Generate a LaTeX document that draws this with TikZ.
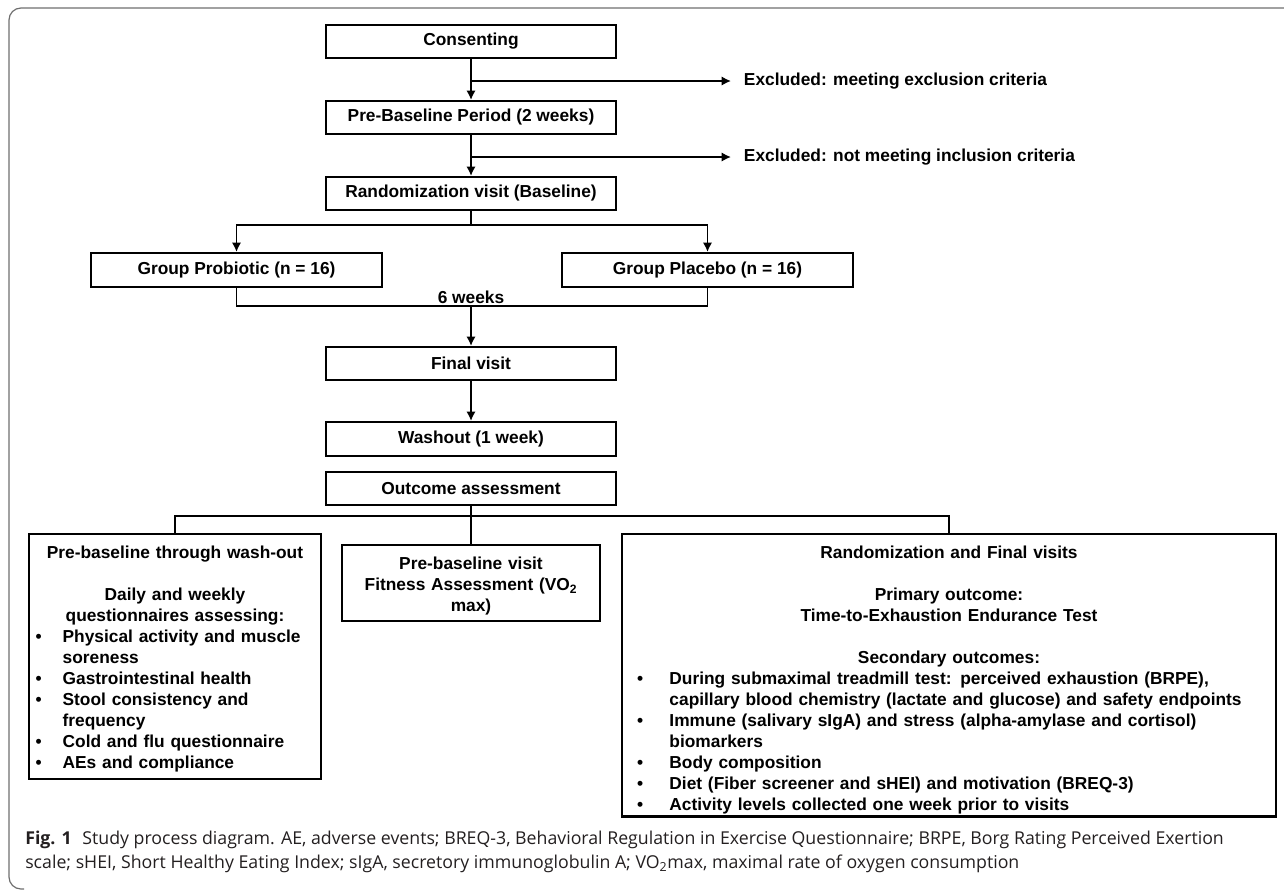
\documentclass[tikz,border=0pt]{standalone}
\usepackage{fontspec}
\setmainfont{Liberation Sans}
\newfontfamily\capfont{Open Sans}
\usetikzlibrary{arrows.meta}
\definecolor{framegray}{RGB}{110,110,110}
\definecolor{captext}{RGB}{35,31,32}
% puce avec retrait suspendu : décalage de la puce, retrait du texte, texte
\newcommand{\puce}[3]{\par\noindent\hangindent=#2\hangafter=1\makebox[#2][l]{\hspace*{#1}\textbullet}#3\par}

\begin{document}
\begin{tikzpicture}[x=0.75pt, y=-0.75pt, >={Latex[length=7pt,width=7pt]}]

        % Définition des styles
        \tikzset{
            box/.style={draw, line width=1.6pt, minimum width=217.5pt, minimum height=24.75pt, inner sep=0pt, font=\fontsize{13pt}{15.75pt}\selectfont\bfseries},
            bigbox/.style={draw, line width=1.6pt, anchor=north, inner xsep=5pt, inner ysep=2pt, align=left, font=\fontsize{13pt}{15.75pt}\selectfont\bfseries},
            excl/.style={anchor=west, inner xsep=9.5pt, inner ysep=0pt, font=\fontsize{13pt}{15.75pt}\selectfont\bfseries},
            flow/.style={->, line width=1.3pt},
            link/.style={line width=1.3pt},
            frame/.style={draw=framegray, line width=0.9pt, rounded corners=9pt}
        }
        \useasboundingbox (0,0) rectangle (1284,889);

        % Cadre gris de la figure
        \draw[frame] (1290,8) -- (9,8) -- (9,889) -- (24,889);

        % --- PARTIE HAUTE : Inclusion ---
        \node[box] (consent) at (471,41.5) {Consenting};
        \node[box] (prebase) at (471,117.5) {Pre-Baseline Period (2 weeks)};
        \node[box] (randvisit) at (471,193.5) {Randomization visit (Baseline)};
        \node[excl] (excl1) at (731,81) {Excluded: meeting exclusion criteria};
        \node[excl] (excl2) at (731,157) {Excluded: not meeting inclusion criteria};

        \draw[flow] (consent) -- (prebase);
        \draw[flow] (consent.south |- excl1.west) -- (excl1.west);
        \draw[flow] (prebase) -- (randvisit);
        \draw[flow] (prebase.south |- excl2.west) -- (excl2.west);

        % --- GROUPES ---
        \node[box, minimum width=218.25pt, minimum height=25.5pt] (probio) at (236.5,270) {Group Probiotic (n = 16)};
        \node[box, minimum width=218.25pt, minimum height=25.5pt] (placebo) at (707.5,270) {Group Placebo (n = 16)};

        \coordinate (split) at (471,225);
        \draw[link] (randvisit) -- (split);
        \draw[flow] (split) -| (probio);
        \draw[flow] (split) -| (placebo);

        \coordinate (merge) at (471,306);
        \draw[link] (probio) |- (merge) -| (placebo);
        \node[above, inner sep=1.5pt, font=\fontsize{13pt}{15.75pt}\selectfont\bfseries] (weeks) at (merge) {6 weeks};

        % --- SUIVI ---
        \node[box] (final) at (471,363.5) {Final visit};
        \node[box, minimum height=25.5pt] (washout) at (471,439) {Washout (1 week)};
        \node[box] (outcome) at (471,488.5) {Outcome assessment};

        \draw[flow] (merge) -- (final);
        \draw[flow] (final) -- (washout);

        % --- PARTIE BASSE : Mesures ---
        \node[bigbox, text width=209pt] (prewash) at (175,532.5) {%
            {\centering\rule{0pt}{16.5pt}Pre-baseline through wash-out\par}
            \vspace{15.75pt}
            {\centering Daily and weekly\\ questionnaires assessing:\par}
            \puce{0pt}{20.25pt}{Physical activity and muscle\break soreness}
            \puce{0pt}{20.25pt}{Gastrointestinal health}
            \puce{0pt}{20.25pt}{Stool consistency and\break frequency}
            \puce{0pt}{20.25pt}{Cold and flu questionnaire}
            \puce{0pt}{20.25pt}{AEs and compliance\rule[-6.25pt]{0pt}{6.25pt}}};
        \node[bigbox, text width=183.5pt, align=center] (fitness) at (471,544) {%
            \rule{0pt}{16pt}Pre-baseline visit\\
            Fitness Assessment (VO\textsubscript{2}\\
            max)\rule[-5.5pt]{0pt}{5.5pt}};
        \node[bigbox, text width=480.5pt] (randfinal) at (949,532.5) {%
            {\centering\rule{0pt}{16.5pt}Randomization and Final visits\par}
            \vspace{15.75pt}
            {\centering Primary outcome:\\ Time-to-Exhaustion Endurance Test\par}
            \vspace{15.75pt}
            {\centering Secondary outcomes:\par}
            \puce{6.25pt}{30.6pt}{During submaximal treadmill test: perceived exhaustion (BRPE),\break capillary blood chemistry (lactate and glucose) and safety endpoints}
            \puce{6.25pt}{30.6pt}{Immune (salivary sIgA) and stress (alpha-amylase and cortisol)\break biomarkers}
            \puce{6.25pt}{30.6pt}{Body composition}
            \puce{6.25pt}{30.6pt}{Diet (Fiber screener and sHEI) and motivation (BREQ-3)}
            \puce{6.25pt}{30.6pt}{Activity levels collected one week prior to visits}};

        \coordinate (fork) at (471,516);
        \draw[link] (outcome) -- (fork);
        \draw[link] (prewash.north) |- (fork) -| (randfinal.north);
        \draw[link] (fork) -- (fitness.north);

        % Légende
        \node[anchor=north west, inner sep=0pt, align=left, text=captext, font=\capfont\fontsize{13.3pt}{18pt}\selectfont] (caption) at (25,831) {%
            \textbf{Fig. 1}\hspace{0.6em}Study process diagram. AE, adverse events; BREQ-3, Behavioral Regulation in Exercise Questionnaire; BRPE, Borg Rating Perceived Exertion\\
            scale; sHEI, Short Healthy Eating Index; sIgA, secretory immunoglobulin A; VO\textsubscript{2}max, maximal rate of oxygen consumption};

    \end{tikzpicture}
\end{document}
